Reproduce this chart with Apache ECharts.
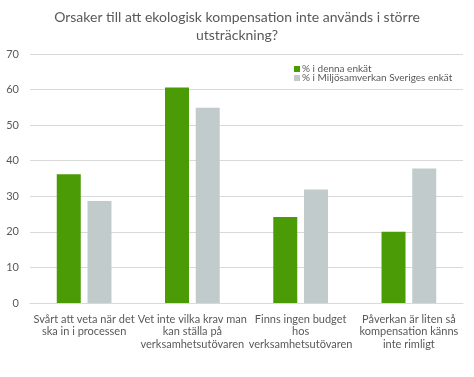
<!DOCTYPE html>
<html>
<head>
<meta charset="utf-8">
<script src="https://cdn.jsdelivr.net/npm/echarts@6/dist/echarts.min.js"></script>
<style>
  html, body { margin: 0; padding: 0; background: #fff; }
  #chart { width: 474px; height: 377px; }
</style>
</head>
<body>
<div id="chart"></div>
<script>
var titleText = 'Orsaker till att ekologisk kompensation inte används i större\nutsträckning?'
var categories = [
  'Svårt att veta när det\nska in i processen',
  'Vet inte vilka krav man\nkan ställa på\nverksamhetsutövaren',
  'Finns ingen budget\nhos\nverksamhetsutövaren',
  'Påverkan är liten så\nkompensation känns\ninte rimligt'
]
var seriesNames = ['% i denna enkät', '% i Miljösamverkan Sveriges enkät']
var denna = [36.2, 60.6, 24.2, 20.0]
var miljosamverkan = [28.7, 54.9, 31.9, 37.8]

var font = 'Lato, "Open Sans", sans-serif'
var textColor = '#595959'

var chart = echarts.init(document.getElementById('chart'))
chart.setOption({
  animation: false,
  title: {
    text: titleText,
    left: 'center',
    top: 3,
    textStyle: {
      fontFamily: font,
      fontSize: 14,
      fontWeight: 'normal',
      color: textColor,
      lineHeight: 18
    }
  },
  legend: {
    orient: 'vertical',
    left: 289,
    top: 59,
    itemGap: -1,
    itemWidth: 6,
    itemHeight: 6,
    icon: 'rect',
    textStyle: {
      fontFamily: font,
      fontSize: 10,
      color: textColor,
      padding: [0, 0, 0, -3],
      lineHeight: 9
    },
    data: seriesNames
  },
  grid: {
    left: 30,
    right: 11,
    top: 54,
    bottom: 74,
    containLabel: false
  },
  xAxis: {
    type: 'category',
    data: categories,
    axisLine: { show: true, lineStyle: { color: '#d9d9d9' } },
    axisTick: { show: false },
    axisLabel: {
      interval: 0,
      fontFamily: font,
      fontSize: 11,
      color: textColor,
      lineHeight: 12.5,
      margin: 10
    }
  },
  yAxis: {
    type: 'value',
    min: 0,
    max: 70,
    interval: 10,
    axisLine: { show: false },
    axisTick: { show: false },
    axisLabel: {
      fontFamily: font,
      fontSize: 11,
      color: textColor,
      margin: 11
    },
    splitLine: { lineStyle: { color: '#d9d9d9' } }
  },
  series: [
    {
      name: seriesNames[0],
      type: 'bar',
      data: denna,
      barWidth: 24,
      barGap: '28%',
      itemStyle: { color: '#4a9b06' }
    },
    {
      name: seriesNames[1],
      type: 'bar',
      data: miljosamverkan,
      barWidth: 24,
      itemStyle: { color: '#c2cbcb' }
    }
  ]
})
</script>
</body>
</html>
